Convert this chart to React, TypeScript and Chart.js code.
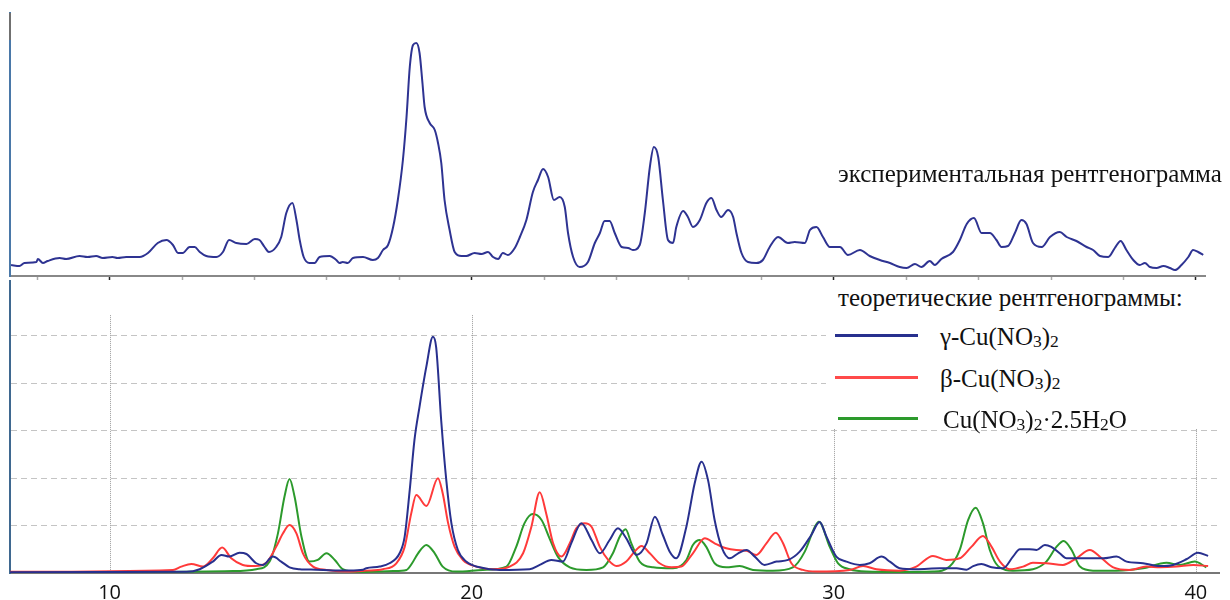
import React, { useEffect, useRef } from 'react';
import { Chart, registerables } from 'chart.js';

Chart.register(...registerables);

// ---------- experimental pattern (2θ, intensity a.u.) ----------
const expX = [7.28, 7.51, 7.65, 7.98, 8.02, 8.16, 8.29, 8.62, 8.80, 9.17,
  9.39, 9.63, 9.81, 10.08, 10.22, 10.46, 10.83, 11.06, 11.33, 11.57,
  11.75, 11.89, 12.02, 12.21, 12.35, 12.49, 12.67, 12.95, 13.13, 13.30,
  13.50, 13.78, 14.01, 14.14, 14.28, 14.40, 14.60, 14.74, 14.88, 15.05,
  15.16, 15.25, 15.36, 15.52, 15.66, 15.80, 16.08, 16.26, 16.35, 16.44,
  16.58, 16.72, 17.00, 17.27, 17.41, 17.55, 17.69, 17.83, 17.96, 18.10,
  18.20, 18.29, 18.38, 18.47, 18.56, 18.64, 18.70, 18.84, 18.98, 19.07,
  19.16, 19.25, 19.39, 19.53, 19.72, 19.85, 20.08, 20.27, 20.45, 20.59,
  20.73, 20.86, 21.00, 21.19, 21.33, 21.51, 21.69, 21.83, 21.97, 22.11,
  22.27, 22.43, 22.57, 22.66, 22.80, 22.98, 23.21, 23.40, 23.54, 23.67,
  23.81, 23.95, 24.14, 24.32, 24.45, 24.64, 24.78, 24.92, 25.03, 25.15,
  25.28, 25.42, 25.56, 25.65, 25.84, 25.97, 26.11, 26.30, 26.48, 26.62,
  26.76, 26.89, 27.08, 27.22, 27.31, 27.45, 27.63, 27.86, 28.04, 28.23,
  28.46, 28.73, 28.92, 29.20, 29.34, 29.52, 29.70, 29.89, 30.17, 30.39,
  30.72, 30.99, 31.27, 31.55, 31.82, 32.01, 32.24, 32.42, 32.65, 32.79,
  32.97, 33.29, 33.48, 33.67, 33.87, 34.08, 34.31, 34.49, 34.63, 34.81,
  35.00, 35.18, 35.32, 35.50, 35.74, 35.97, 36.24, 36.43, 36.70, 36.98,
  37.16, 37.35, 37.58, 37.76, 37.92, 38.08, 38.27, 38.45, 38.59, 38.73,
  38.91, 39.10, 39.28, 39.42, 39.60, 39.79, 39.92, 40.06, 40.20];
const expY = [11, 10, 13, 14, 17, 13, 15, 18, 17, 20,
  19, 20, 18, 19, 18, 19, 19, 23, 33, 36,
  31, 23, 23, 29, 29, 24, 20, 19, 24, 36,
  33, 32, 37, 36, 29, 24, 29, 39, 63, 73,
  56, 36, 19, 13, 13, 19, 20, 16, 13, 14,
  13, 18, 19, 16, 18, 26, 31, 49, 76, 116,
  159, 209, 231, 233, 223, 193, 169, 153, 146, 133,
  113, 76, 46, 24, 20, 20, 23, 22, 24, 19,
  17, 23, 21, 28, 39, 56, 84, 96, 107, 99,
  76, 79, 69, 43, 19, 9, 14, 33, 43, 55,
  55, 43, 29, 28, 26, 31, 63, 109, 129, 119,
  76, 36, 33, 49, 65, 59, 49, 56, 73, 78,
  66, 59, 66, 59, 43, 23, 14, 13, 16, 29,
  39, 33, 34, 33, 46, 49, 39, 29, 29, 21,
  26, 20, 16, 13, 9, 8, 12, 9, 15, 11,
  17, 24, 36, 52, 58, 43, 43, 36, 29, 30,
  43, 56, 52, 33, 29, 39, 44, 39, 35, 29,
  26, 20, 19, 28, 35, 26, 16, 11, 13, 9,
  8, 10, 8, 6, 11, 19, 26, 24, 21];

// ---------- theoretical patterns (2θ, relative intensity %) ----------
const gammaX = [7.25, 12.12, 12.49, 12.85, 13.09, 13.31, 13.59, 13.78, 14.05, 14.23,
  14.51, 14.74, 14.97, 15.25, 15.71, 16.17, 16.63, 17.00, 17.09, 17.46,
  17.73, 18.01, 18.15, 18.29, 18.42, 18.56, 18.75, 18.93, 19.02, 19.16,
  19.30, 19.44, 19.62, 19.85, 20.22, 20.77, 21.60, 21.88, 22.20, 22.52,
  22.75, 23.03, 23.31, 23.54, 23.81, 24.04, 24.27, 24.55, 24.83, 25.06,
  25.28, 25.47, 25.65, 25.93, 26.16, 26.35, 26.53, 26.71, 26.90, 27.13,
  27.36, 27.59, 27.82, 28.09, 28.42, 28.74, 29.06, 29.38, 29.61, 29.80,
  30.07, 30.35, 30.72, 30.99, 31.32, 31.55, 31.82, 32.28, 32.93, 33.39,
  33.67, 33.85, 34.08, 34.36, 34.68, 34.95, 35.14, 35.41, 35.60, 35.83,
  36.01, 36.24, 36.43, 36.70, 37.07, 37.44, 37.81, 38.09, 38.54, 39.01,
  39.37, 39.74, 40.06, 40.34];
const gammaY = [0.3, 0.5, 1.6, 4.8, 7.6, 6.9, 8.5, 8.0, 4.1, 3.4,
  6.9, 4.8, 2.4, 1.6, 1.4, 1.1, 1.1, 1.4, 2, 2.7,
  4.1, 8.3, 15.3, 35, 56, 70, 87, 99.5, 95, 64,
  39, 21, 9.7, 4.8, 2.4, 1.3, 1.6, 3.4, 5.5, 4.8,
  12.5, 21, 13.9, 8.3, 13.9, 18.8, 14.6, 7.6, 12.5, 23.7,
  16, 9, 6.2, 19.5, 37.8, 46.9, 39, 22.3, 11, 6.2,
  8.3, 9.7, 6.9, 3.4, 4.8, 5.5, 9, 16, 21.5, 15.3,
  6.9, 4.8, 3.4, 4.1, 6.9, 4.8, 2, 1.6, 2, 2,
  1.4, 2.9, 3.8, 2.4, 2, 6.9, 10, 10, 9.7, 11.8,
  11, 8.3, 6.2, 6.2, 6.2, 6.2, 6.9, 4.8, 4.1, 2.9,
  3.4, 5.8, 8.5, 7.2];

const betaX = [7.25, 11.75, 11.98, 12.26, 12.58, 12.85, 13.11, 13.36, 13.68, 14.01,
  14.33, 14.60, 14.79, 14.97, 15.16, 15.34, 15.62, 15.99, 16.63, 17.09,
  17.55, 17.92, 18.15, 18.33, 18.47, 18.75, 19.07, 19.20, 19.35, 19.53,
  19.76, 20.13, 20.59, 21.05, 21.42, 21.65, 21.88, 22.06, 22.25, 22.48,
  22.71, 22.89, 23.12, 23.31, 23.54, 23.77, 24.00, 24.27, 24.50, 24.69,
  24.92, 25.19, 25.52, 25.79, 26.11, 26.44, 26.71, 27.03, 27.31, 27.59,
  27.86, 28.14, 28.40, 28.60, 28.83, 29.15, 29.52, 30.44, 30.81, 31.18,
  31.82, 32.28, 32.74, 33.11, 33.48, 33.80, 34.12, 34.36, 34.59, 34.86,
  35.23, 35.50, 35.87, 36.33, 36.70, 37.07, 37.40, 37.72, 38.18, 38.64,
  39.01, 39.47, 39.93, 40.34];
const betaY = [0.5, 1.3, 2.7, 3.8, 2.7, 6.2, 10.7, 6.2, 3.4, 2.9,
  4.3, 11, 16.7, 20.2, 16.7, 8.3, 2.7, 1.3, 0.6, 1,
  1.6, 4.1, 11, 25, 32.8, 28.2, 39.9, 33.6, 21, 11,
  5.5, 2.7, 1.6, 2.7, 8.3, 19.5, 34, 25, 12.5, 6.9,
  12.5, 18.8, 21, 19.5, 11, 5.5, 2.9, 4.8, 9, 11.4,
  8.3, 4.1, 2.4, 2.7, 8.3, 14.6, 12.5, 10.4, 9.7, 9.4,
  7.6, 12.5, 17, 12.5, 4.1, 1.3, 0.6, 1.3, 2.9, 1.6,
  1, 2.7, 7.2, 5.5, 6.2, 11, 15.6, 11, 4.8, 1.6,
  2.7, 4.3, 4.1, 3.4, 6.2, 9.7, 6.2, 2.4, 1.3, 2.7,
  2.4, 2.7, 3.4, 2.9];

const hydX = [7.25, 13.41, 14.05, 14.42, 14.65, 14.83, 14.97, 15.11, 15.30, 15.52,
  15.75, 15.99, 16.22, 16.44, 16.91, 17.83, 18.20, 18.35, 18.52, 18.75,
  18.98, 19.20, 19.58, 20.31, 20.96, 21.23, 21.46, 21.69, 21.93, 22.15,
  22.38, 22.71, 23.17, 23.63, 23.90, 24.09, 24.25, 24.41, 24.64, 25.01,
  25.56, 25.93, 26.11, 26.30, 26.48, 26.71, 27.03, 27.40, 27.77, 28.32,
  28.87, 29.20, 29.48, 29.59, 29.89, 30.12, 30.44, 30.90, 31.82, 32.74,
  33.20, 33.48, 33.71, 33.92, 34.12, 34.31, 34.54, 34.95, 35.50, 35.87,
  36.15, 36.35, 36.57, 36.80, 37.16, 37.81, 38.54, 39.19, 39.56, 39.97,
  40.29];
const hydY = [0, 0.8, 1.6, 4.8, 16.7, 32.1, 39.6, 32.1, 15.3, 4.8,
  5.5, 8.3, 5.5, 1.6, 0.4, 0.8, 1.3, 4, 8.3, 11.8,
  8.3, 2.7, 0.6, 1.3, 2.7, 11, 21, 24.8, 22.3, 14.6,
  6.9, 2.4, 1.3, 2.4, 8.3, 15.3, 18.4, 12.5, 4.8, 2.4,
  2, 5.5, 11.8, 13.9, 11, 4.1, 2.4, 2.9, 1.3, 1,
  2.4, 9, 19.5, 21.6, 11, 4.1, 1.6, 0.6, 0.4, 0.6,
  2.7, 9.7, 22.3, 27.5, 21, 9.7, 2.9, 1, 1.6, 4.8,
  11, 13.5, 9.7, 2.7, 1, 1, 2, 4.3, 3.4, 4.8,
  2.4];

const xTickLabels = [10, 20, 30, 40];
const gridValues = [20, 40, 60, 80, 100];

const X_MIN = 7.25;
const X_MAX_TOP = 40.25;
const X_MAX_BOTTOM = 40.64;
const TOP_Y_MAX = 263;
const BOT_Y_MAX = 123.4;
const V_GRID_TOP = 108.6;

const toPoints = (xs: number[], ys: number[]) => xs.map((x, i) => ({ x, y: ys[i] }));

const axisCapPlugin = {
  id: 'axisCap',
  afterDraw(chart: any) {
    const { ctx, chartArea } = chart;
    ctx.save();
    ctx.strokeStyle = '#707070';
    ctx.lineWidth = 2;
    ctx.beginPath();
    ctx.moveTo(chartArea.left, chartArea.top);
    ctx.lineTo(chartArea.left, chartArea.top + 27);
    ctx.stroke();
    ctx.restore();
  },
};

const vGridPlugin = {
  id: 'vGrid',
  beforeDatasetsDraw(chart: any) {
    const { ctx } = chart;
    const x = chart.scales.x;
    const y = chart.scales.y;
    ctx.save();
    ctx.strokeStyle = '#9c9c9c';
    ctx.lineWidth = 1;
    ctx.setLineDash([1, 1]);
    for (const v of xTickLabels) {
      const px = Math.round(x.getPixelForValue(v)) + 0.5;
      ctx.beginPath();
      ctx.moveTo(px, y.getPixelForValue(V_GRID_TOP));
      ctx.lineTo(px, y.bottom);
      ctx.stroke();
    }
    ctx.restore();
  },
};

const Sub = ({ children }: { children: any }) => (
  <span style={{ fontSize: '0.7em', position: 'relative', top: '0.12em' }}>{children}</span>
);

const serif = '"Liberation Serif", "Times New Roman", serif';

export default function App() {
  const topRef = useRef<HTMLCanvasElement>(null);
  const botRef = useRef<HTMLCanvasElement>(null);

  useEffect(() => {
    const top = new Chart(topRef.current as HTMLCanvasElement, {
      type: 'line',
      data: {
        datasets: [
          {
            data: toPoints(expX, expY),
            borderColor: '#2e3392',
            borderWidth: 2,
            pointRadius: 0,
            cubicInterpolationMode: 'monotone',
            fill: false,
          },
        ],
      },
      options: {
        animation: false,
        responsive: false,
        maintainAspectRatio: false,
        layout: { padding: { left: 10, right: 25, top: 13, bottom: 2 }, autoPadding: false },
        plugins: { legend: { display: false }, tooltip: { enabled: false } },
        scales: {
          x: {
            type: 'linear',
            min: X_MIN,
            max: X_MAX_TOP,
            ticks: { display: false, stepSize: 2, includeBounds: false },
            grid: {
              drawOnChartArea: false,
              drawTicks: true,
              tickLength: 4,
              tickWidth: 1.5,
              tickColor: (ctx: any) => (ctx.tick && ctx.tick.value % 10 === 0 ? '#222' : '#aaa'),
            },
            border: { color: '#888', width: 2 },
          },
          y: {
            min: 0,
            max: TOP_Y_MAX,
            ticks: { display: false },
            grid: { display: false, drawTicks: false },
            border: { color: '#4a78a8', width: 2 },
          },
        },
      },
      plugins: [axisCapPlugin],
    } as any);

    const bot = new Chart(botRef.current as HTMLCanvasElement, {
      type: 'line',
      data: {
        datasets: [
          {
            label: 'γ-Cu(NO3)2',
            data: toPoints(gammaX, gammaY),
            borderColor: '#28308e',
            borderWidth: 2,
            pointRadius: 0,
            cubicInterpolationMode: 'monotone',
          },
          {
            label: 'β-Cu(NO3)2',
            data: toPoints(betaX, betaY),
            borderColor: '#ff3a3a',
            borderWidth: 2,
            pointRadius: 0,
            cubicInterpolationMode: 'monotone',
          },
          {
            label: 'Cu(NO3)2·2.5H2O',
            data: toPoints(hydX, hydY),
            borderColor: '#2c9a2c',
            borderWidth: 2,
            pointRadius: 0,
            cubicInterpolationMode: 'monotone',
          },
        ],
      },
      options: {
        animation: false,
        responsive: false,
        maintainAspectRatio: false,
        layout: { padding: { left: 10, right: 11, top: 0, bottom: 1 }, autoPadding: false },
        plugins: { legend: { display: false }, tooltip: { enabled: false } },
        scales: {
          x: {
            type: 'linear',
            min: X_MIN,
            max: X_MAX_BOTTOM,
            ticks: {
              stepSize: 10,
              includeBounds: false,
              autoSkip: false,
              maxRotation: 0,
              padding: 10,
              color: '#111',
              font: { family: '"Open Sans", "DejaVu Sans", sans-serif', size: 20, lineHeight: 1 },
              callback: (v: any) => (xTickLabels.includes(Number(v)) ? String(v) : ''),
            },
            grid: { display: false, drawTicks: false },
            border: { color: '#777', width: 2 },
          },
          y: {
            min: 0,
            max: BOT_Y_MAX,
            ticks: { display: false, stepSize: 20 },
            grid: {
              drawTicks: false,
              lineWidth: 1,
              color: (ctx: any) =>
                ctx.tick && gridValues.includes(ctx.tick.value) ? '#c4c4c4' : 'rgba(0,0,0,0)',
            },
            border: { color: '#3f6890', width: 2, dash: [6, 4] },
          },
        },
      },
      plugins: [vGridPlugin],
    } as any);

    return () => {
      top.destroy();
      bot.destroy();
    };
  }, []);

  return (
    <div
      style={{
        position: 'fixed',
        left: 0,
        top: 0,
        width: 1230,
        height: 600,
        background: '#fff',
        overflow: 'hidden',
      }}
    >
      <canvas ref={topRef} width={1230} height={282} style={{ position: 'absolute', left: 0, top: 0 }} />
      <canvas ref={botRef} width={1230} height={334} style={{ position: 'absolute', left: 0, top: 280 }} />

      <div
        lang="ru"
        style={{
          position: 'absolute',
          left: 838,
          top: 161,
          fontFamily: serif,
          fontSize: 25,
          lineHeight: '25px',
          color: '#111',
          whiteSpace: 'nowrap',
        }}
      >
        экспериментальная рентгенограмма
      </div>

      <div
        lang="ru"
        style={{
          position: 'absolute',
          left: 826,
          top: 283,
          width: 404,
          height: 146,
          background: '#fff',
          fontFamily: serif,
          fontSize: 25,
          lineHeight: '25px',
          color: '#111',
          whiteSpace: 'nowrap',
        }}
      >
        <div style={{ position: 'absolute', left: 12, top: 2 }}>теоретические рентгенограммы:</div>

        <div style={{ position: 'absolute', left: 9, top: 50.5, width: 83, height: 3, background: '#28308e' }} />
        <div style={{ position: 'absolute', left: 114, top: 41 }}>
          γ-Cu(NO<Sub>3</Sub>)<Sub>2</Sub>
        </div>

        <div style={{ position: 'absolute', left: 9, top: 92.5, width: 83, height: 3.5, background: '#ff4a4a' }} />
        <div style={{ position: 'absolute', left: 114, top: 83 }}>
          β-Cu(NO<Sub>3</Sub>)<Sub>2</Sub>
        </div>

        <div style={{ position: 'absolute', left: 12, top: 133.5, width: 80, height: 3, background: '#2c9a2c' }} />
        <div style={{ position: 'absolute', left: 117, top: 124 }}>
          Cu(NO<Sub>3</Sub>)<Sub>2</Sub>·2.5H<Sub>2</Sub>O
        </div>
      </div>
    </div>
  );
}
